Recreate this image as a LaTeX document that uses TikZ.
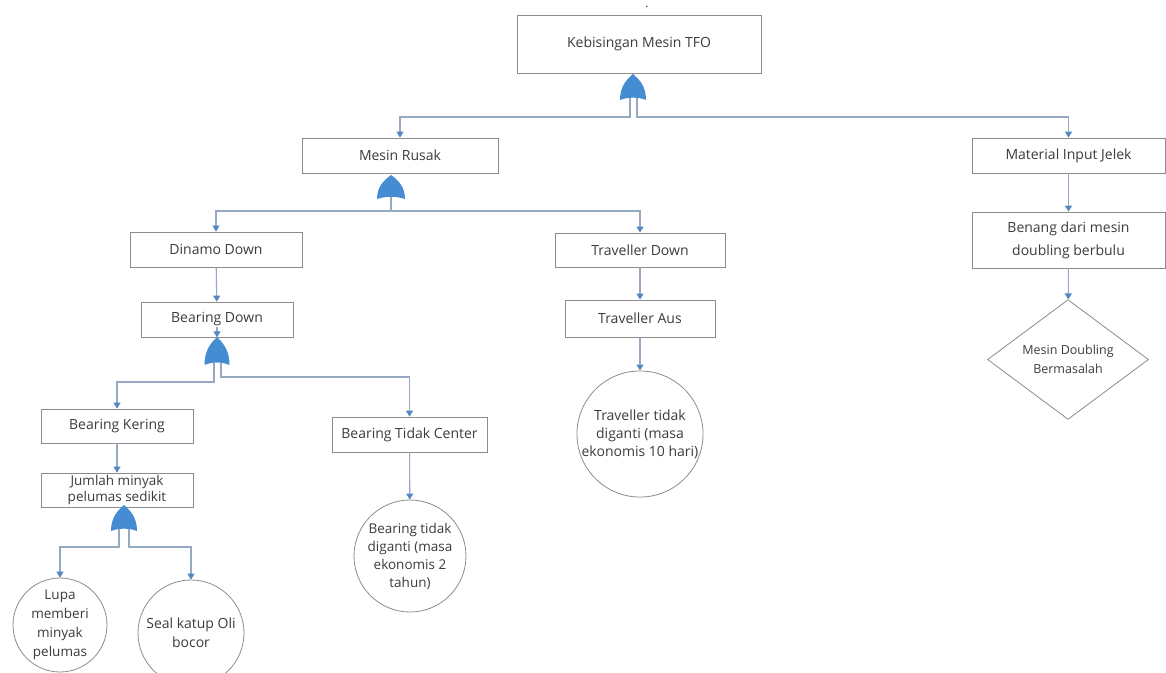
\documentclass[tikz,border=0pt]{standalone}
\usepackage{fontspec}
\setmainfont{Open Sans}
\usetikzlibrary{arrows.meta,shapes.geometric,calc}
\definecolor{boxgray}{RGB}{140,140,140}
\definecolor{txtgray}{RGB}{60,60,60}
\definecolor{linec}{RGB}{150,168,194}
\definecolor{arrblue}{RGB}{85,135,195}
\definecolor{gateblue}{RGB}{70,140,210}
\newcommand\orgatedraw[4]{% x, apex y, base y, half width
  \fill[gateblue] ({#1-#4},#3) .. controls ({#1-#4},{#3-0.55*(#3-#2)}) and ({#1-0.45*#4},{#2+0.2*(#3-#2)}) .. (#1,#2)
    .. controls ({#1+0.45*#4},{#2+0.2*(#3-#2)}) and ({#1+#4},{#3-0.55*(#3-#2)}) .. ({#1+#4},#3)
    .. controls ({#1+0.4*#4},{#3-0.12*(#3-#2)}) and ({#1-0.4*#4},{#3-0.12*(#3-#2)}) .. cycle;}
\tikzset{
  box/.style={draw=boxgray, line width=0.8pt, fill=white, inner sep=0pt, align=center, text=txtgray,
    font=\fontsize{14}{17}\selectfont},
  circ/.style={draw=boxgray, line width=0.8pt, fill=white, circle, inner sep=0pt, align=center, text=txtgray,
    font=\fontsize{13.5}{18}\selectfont},
  dia/.style={draw=boxgray, line width=0.8pt, fill=white, diamond, inner sep=0pt, align=center, text=txtgray,
    font=\fontsize{12.5}{19}\selectfont},
  conn/.style={draw=linec, line width=1.1pt},
  arr/.style={conn, -{Triangle[width=7pt,length=6pt,color=arrblue]}},
}
\begin{document}
\begin{tikzpicture}[x=1pt,y=-1pt]
\useasboundingbox (0,0) rectangle (1166,672);
\fill[white] (0,0) rectangle (1166,672);

\node[anchor=base, inner sep=0pt, text=txtgray, font=\fontsize{12}{12}\selectfont] (dot) at (647,7) {.};

% boxes
\node[box, minimum width=244pt, minimum height=58pt] (top) at (639,44) {Kebisingan Mesin TFO};
\node[box, minimum width=196pt, minimum height=35pt] (mesin) at (400,155.5) {Mesin Rusak};
\node[box, minimum width=193pt, minimum height=35pt] (material) at (1068.5,155.5) {Material Input Jelek};
\node[box, minimum width=172pt, minimum height=35pt] (dinamo) at (216,249.5) {Dinamo Down};
\node[box, minimum width=152pt, minimum height=35pt] (bdown) at (217,319.5) {Bearing Down};
\node[box, minimum width=170pt, minimum height=34pt] (travdown) at (640,250) {Traveller Down};
\node[box, minimum width=150pt, minimum height=37pt] (travaus) at (640,318.5) {Traveller Aus};
\node[box, minimum width=193pt, minimum height=56pt, font=\fontsize{14}{23}\selectfont] (benang) at (1068.5,240) {Benang dari mesin\\doubling berbulu};
\node[dia, minimum width=161pt, minimum height=115pt] (doubling) at (1068,359.5) {Mesin Doubling\\Bermasalah};
\node[circ, minimum size=124pt, font=\fontsize{14}{18}\selectfont] (travc) at (640,434) {Traveller tidak\\diganti (masa\\ekonomis 10 hari)};
\node[box, minimum width=152pt, minimum height=34pt] (bkering) at (117,426) {Bearing Kering};
\node[box, minimum width=152pt, minimum height=34pt, font=\fontsize{13.5}{16}\selectfont] (jumlah) at (117,490) {Jumlah minyak\\pelumas sedikit};
\node[box, minimum width=155pt, minimum height=35pt] (btc) at (409.5,434.5) {Bearing Tidak Center};
\node[circ, minimum size=112pt] (btcirc) at (410,556) {Bearing tidak\\diganti (masa\\ekonomis 2\\tahun)};
\node[circ, minimum size=94pt, font=\fontsize{13.5}{19}\selectfont] (lupa) at (60,625) {Lupa\\memberi\\minyak\\pelumas};
\node[circ, minimum size=106pt, font=\fontsize{14}{19}\selectfont] (seal) at (191,633) {Seal katup Oli\\bocor};

% gates
\orgatedraw{633}{74}{100}{13}
\orgatedraw{391}{175}{199}{14}
\orgatedraw{217}{337}{365}{12.5}
\orgatedraw{124}{505}{531}{13}
\coordinate (g1l) at (630,98);
\coordinate (g1r) at (637,98);
\coordinate (g2b) at (391,197);
\coordinate (g3l) at (214,363);
\coordinate (g3r) at (221,363);
\coordinate (g4l) at (119,529);
\coordinate (g4r) at (129,529);

% connectors
\draw[arr] (g1l) -- ++(0,19) -| (mesin.north);
\draw[arr] (g1r) -- ++(0,19) -| (material.north);
\draw[arr] (g2b) -- ++(0,14) -| (dinamo.north);
\draw[arr] (g2b) -- ++(0,14) -| (travdown.north);
\draw[arr] (dinamo) -- (bdown);
\coordinate (bdin) at (217,327);
\draw[arr] (bdin) -- (bdown.south);
\draw[arr] (g3l) -- ++(0,19) -| (bkering.north);
\draw[arr] (g3r) -- ++(0,14) -| (btc.north);
\draw[arr] (bkering) -- (jumlah);
\draw[arr] (g4l) -- ++(0,18) -| (lupa.north);
\draw[arr] (g4r) -- ++(0,18) -| (seal.north);
\draw[arr] (btc) -- (btcirc);
\draw[arr] (travdown) -- (travaus);
\draw[arr] (travaus) -- (travc);
\draw[arr] (material) -- (benang);
\draw[arr] (benang) -- (doubling);
\end{tikzpicture}
\end{document}
